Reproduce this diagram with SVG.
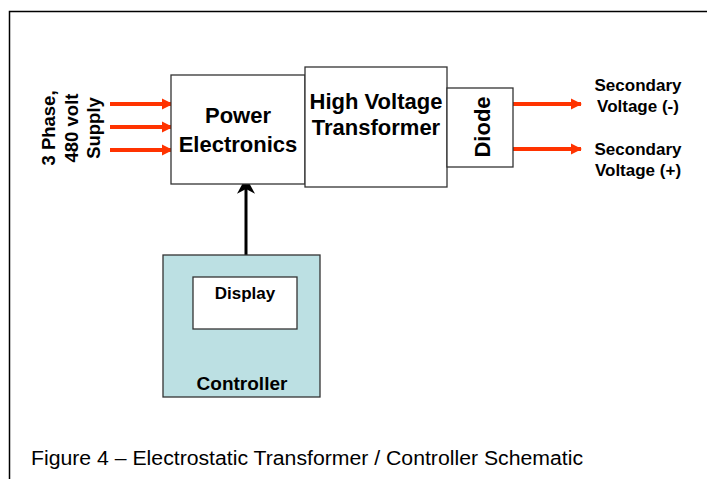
<svg xmlns="http://www.w3.org/2000/svg" width="707" height="479" viewBox="0 0 707 479">
<defs>
<style>
.box{fill:#fff;stroke:#333;stroke-width:1.3}
.b{font-family:"Liberation Sans",Arial,sans-serif;font-weight:bold;fill:#000;text-anchor:middle}
.red{stroke:#FF3300;stroke-width:3.8;fill:none}
</style>
<marker id="ar" viewBox="0 0 10 10" refX="9" refY="5" markerWidth="3" markerHeight="3" orient="auto" markerUnits="strokeWidth" preserveAspectRatio="none">
<path d="M0,0 L10,5 L0,10 z" fill="#FF3300"/>
</marker>
<marker id="ab" viewBox="0 0 10 10" refX="9" refY="5" markerWidth="5.5" markerHeight="6" orient="auto" markerUnits="strokeWidth" preserveAspectRatio="none">
<path d="M0,0 L10,5 L0,10 L3,5 z" fill="#000"/>
</marker>
</defs>
<rect width="707" height="479" fill="#fff"/>
<path d="M9.5,479 V11.5 H707" fill="none" stroke="#000" stroke-width="1.5"/>
<g id="connectors">
<line class="red" x1="110" y1="104" x2="172" y2="104" marker-end="url(#ar)"/>
<line class="red" x1="110" y1="127" x2="172" y2="127" marker-end="url(#ar)"/>
<line class="red" x1="110" y1="150" x2="172" y2="150" marker-end="url(#ar)"/>
<line class="red" x1="513" y1="104" x2="581" y2="104" marker-end="url(#ar)"/>
<line class="red" x1="513" y1="149" x2="581" y2="149" marker-end="url(#ar)"/>
<line x1="246" y1="255" x2="246" y2="179" stroke="#000" stroke-width="3" marker-end="url(#ab)"/>
</g>
<g id="supply">
<text class="b" font-size="18.5" transform="translate(55,128) rotate(-90)">3 Phase,</text>
<text class="b" font-size="18.5" transform="translate(78,128) rotate(-90)">480 volt</text>
<text class="b" font-size="18.5" transform="translate(100,128) rotate(-90)">Supply</text>
</g>
<g id="power">
<rect class="box" x="171" y="75" width="134" height="109"/>
<text class="b" font-size="22" x="238" y="123">Power</text>
<text class="b" font-size="22" x="238" y="152">Electronics</text>
</g>
<g id="hvt">
<rect class="box" x="305" y="67" width="142" height="120"/>
<text class="b" font-size="22" x="376" y="109">High Voltage</text>
<text class="b" font-size="22" x="376" y="135">Transformer</text>
</g>
<g id="diode">
<rect class="box" x="447" y="88" width="66" height="79"/>
<text class="b" font-size="22" transform="translate(490,127) rotate(-90)">Diode</text>
</g>
<g id="outneg">
<text class="b" font-size="17" x="638" y="91">Secondary</text>
<text class="b" font-size="17" x="638" y="112">Voltage (-)</text>
</g>
<g id="outpos">
<text class="b" font-size="17" x="638" y="155">Secondary</text>
<text class="b" font-size="17" x="638" y="176">Voltage (+)</text>
</g>
<g id="controller">
<rect x="163" y="255" width="157" height="142" fill="#BCE0E3" stroke="#333" stroke-width="1.3"/>
<text class="b" font-size="19" x="242" y="390">Controller</text>
</g>
<g id="display">
<rect class="box" x="193" y="277" width="104" height="52"/>
<text class="b" font-size="17" x="245" y="299">Display</text>
</g>
<text x="31" y="465" font-family="'Liberation Sans',Arial,sans-serif" font-size="20" fill="#000" textLength="552" lengthAdjust="spacingAndGlyphs">Figure 4 – Electrostatic Transformer / Controller Schematic</text>
</svg>
